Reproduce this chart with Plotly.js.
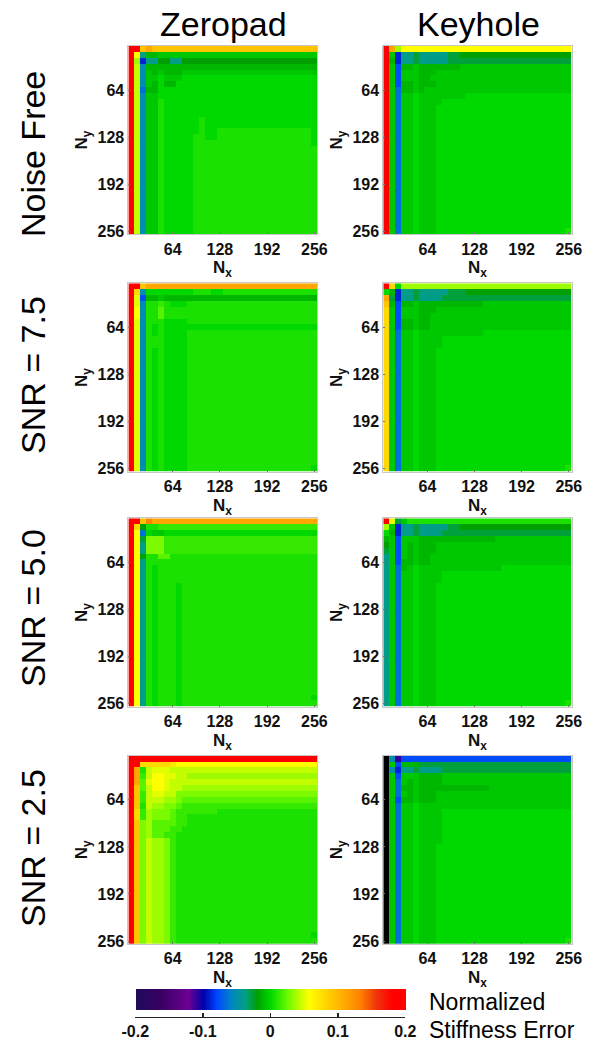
<!DOCTYPE html>
<html><head><meta charset="utf-8">
<script src="https://cdn.plot.ly/plotly-3.0.1.min.js"></script>
<style>html,body{margin:0;padding:0;background:#fff}</style></head>
<body><div id="chart" style="width:603px;height:1050px"></div>
<script>
// Matrix size values (both axes)
const sizes = [8,16,24,32,40,48,56,64,72,80,88,96,104,112,120,128,136,144,152,160,168,176,184,192,200,208,216,224,232,240,248,256];
const tickValues = [64,128,192,256];
const columnTitles = ["Zeropad","Keyhole"];
const rowTitles = ["Noise Free","SNR = 7.5","SNR = 5.0","SNR = 2.5"];
const barTicks = [-0.2,-0.1,0,0.1,0.2];
const barTickText = ["-0.2","-0.1","0","0.1","0.2"];

// Error level for each letter used in the grids below
const levels = {K:-0.2,P:-0.11,B:-0.09,C:-0.078,D:-0.066,E:-0.052,F:-0.04,G:-0.028,H:-0.02,I:-0.012,J:-0.006,
  a:0,b:0.006,c:0.012,d:0.02,n:0.028,e:0.035,f:0.043,g:0.05,h:0.056,i:0.07,j:0.08,k:0.093,l:0.11,m:0.13,r:0.2};

const zeropadNoiseFree = [
"rrklkkkk kkkkkkkk kkkkkkkk kkkkkkkk",
"rhFIIJJJ JJJJJJJJ JJJJJJJJ JJJJJJJJ",
"reBFFHHF FHHHHHHH HHHHHHHH HHHHHHHH",
"rfEIIIII IIIIIIII IIIIIIII IIIIIIII",
"rfEJIJII IJJJJJJJ JJJJJJJJ JJJJJJJJ",
"rfEJJaJJ Jaaaaaaa aaaaaaaa aaaaaaaa",
"rfEJIaII aaaaaaaa aaaaaaaa aaaaaaaa",
"rfDIIaaa aaaaaaaa aaaaaaaa aaaaaaaa",
"rfEJJaaa aaaaaaaa aaaaaaaa aaaaaaaa",
"rfEJJbaa aaaaaaaa aaaaaaaa aaaaaaaa",
"rfEJJbaa aaaaaaaa aaaaaaaa aaaaaaaa",
"rfEJJbaa aaaaaaaa aaaaaaaa aaaaaaaa",
"rfEJJbaa aaaabaaa aaaaaaaa aaaaaaaa",
"rfEJJbaa aaaabaaa aaaaaaaa aaaaaaaa",
"rfEJJbaa aaaabaab bbbbbbbb bbbbbbba",
"rfEJJbaa aaabbaab bbbbbbbb bbbbbbba",
"rfEJJbaa aaabbbbb bbbbbbbb bbbbbbba",
"rfEJJbaa aaabbbbb bbbbbbbb bbbbbbbb",
"rfEJJbaa aaabbbbb bbbbbbbb bbbbbbbb",
"rfEJJbaa aaabbbbb bbbbbbbb bbbbbbbb",
"rfEJJbaa aaabbbbb bbbbbbbb bbbbbbbb",
"rfEJJbaa aaabbbbb bbbbbbbb bbbbbbbb",
"rfEJJbaa aaabbbbb bbbbbbbb bbbbbbbb",
"rfEJJbaa aaabbbbb bbbbbbbb bbbbbbbb",
"rfEJJbaa aaabbbbb bbbbbbbb bbbbbbbb",
"rfEJJbaa aaabbbbb bbbbbbbb bbbbbbbb",
"rfEJJbaa aaabbbbb bbbbbbbb bbbbbbbb",
"rfEJJbaa aaabbbbb bbbbbbbb bbbbbbbb",
"rfEJJbaa aaabbbbb bbbbbbbb bbbbbbbb",
"rfEJJbaa aaabbbbb bbbbbbbb bbbbbbbb",
"rfEJJbaa aaabbbbb bbbbbbbb bbbbbbbb",
"rfEJJbaa aaabbbbb bbbbbbbb bbbbbbbb"];

const keyholeNoiseFree = [
"rlehhhhh hhhhhhhh hhhhhhhh hhhhhhhh",
"rJBFFGFF FFFGGHHH HHHHHHHH HHHHHHHH",
"rIBFFGFF FFFGGGGG GGGGGGGG GGGGGGGG",
"rJCIIJII IIIIIJJJ JJJJJJJJ JJJJJJJJ",
"rJCJJJII IJJJJJJJ JJJJJJJJ JJJJJJJJ",
"rJCJJJII JJJJJJJJ JJJJJJJJ JJJJJJJJ",
"rJCIIJII IJJJJJJJ JJJJJJJJ JJJJJJJJ",
"rJDIIJIJ JJJJJJJJ JJJJJJJJ JJJJJJJJ",
"rJDJJaJJ JJJJJJaa aaaaaaaa aaaaaaaa",
"rJDJJaJJ JJaaaaaa aaaaaaaa aaaaaaaa",
"rJDJJaJJ Jaaaaaaa aaaaaaaa aaaaaaaa",
"rJDJJaJJ Jaaaaaaa aaaaaaaa aaaaaaaa",
"rJDJJaJJ Jaaaaaaa aaaaaaaa aaaaaaaa",
"rJDJJaJJ Jaaaaaaa aaaaaaaa aaaaaaaa",
"rJDJJaJJ Jaaaaaaa aaaaaaaa aaaaaaaa",
"rJDJJaJJ Jaaaaaaa aaaaaaaa aaaaaaaa",
"rJDJJaJJ Jaaaaaaa aaaaaaaa aaaaaaaa",
"rJDJJaJJ Jaaaaaaa aaaaaaaa aaaaaaaa",
"rJDJJaJJ Jaaaaaaa aaaaaaaa aaaaaaaa",
"rJDJJaJJ Jaaaaaaa aaaaaaaa aaaaaaaa",
"rJDJJaJJ Jaaaaaaa aaaaaaaa aaaaaaaa",
"rJDJJaJJ Jaaaaaaa aaaaaaaa aaaaaaaa",
"rJDJJaJJ Jaaaaaaa aaaaaaaa aaaaaaaa",
"rJDJJaJJ Jaaaaaaa aaaaaaaa aaaaaaaa",
"rJDJJaJJ Jaaaaaaa aaaaaaaa aaaaaaaa",
"rJDJJaJJ Jaaaaaaa aaaaaaaa aaaaaaaa",
"rJDJJaJJ Jaaaaaaa aaaaaaaa aaaaaaaa",
"rJDJJaJJ Jaaaaaaa aaaaaaaa aaaaaaaa",
"rJDJJaJJ Jaaaaaaa aaaaaaaa aaaaaaaa",
"rJDJJaJJ Jaaaaaaa aaaaaaaa aaaaaaaa",
"rJDJJaJJ Jaaaaaaa aaaaaaaa aaaaaaaa",
"rJDJJaJJ Jaaaaaaa aaaaaaaa aaaaaaab"];

const zeropadSnr75 = [
"rrklllll llllllll llllllll llllllll",
"rjEaaaaa aaabbbaa bbbbbbbb bbbbbbbb",
"rgCIIJII IIIIIIII IIIIIIII IIIIIIII",
"rgEbbcba aabbbbbb bbbbbbbb bbbbbbbb",
"rhEbbdbb bbbbbbbb bbbbbbbb bbbbbbbb",
"rhEbbdbb bbbbbbbb bbbbbbbb bbbbbbbb",
"rgEbbbaa aabbbbbb bbbbbbbb bbbbbbbb",
"rgEbabaa aaaaaaaa aaaaaaaa aaaaaaaa",
"rgEbabaa aabbbbbb bbbbbbbb bbbbbbbb",
"rgEbbbaa aabbbbbb bbbbbbbb bbbbbbbb",
"rgEbbbaa aabbbbbb bbbbbbbb bbbbbbbb",
"rgEbabaa aabbbbbb bbbbbbbb bbbbbbbb",
"rgEbabaa aabbbbbb bbbbbbbb bbbbbbbb",
"rgEbabaa aabbbbbb bbbbbbbb bbbbbbbb",
"rgEbabaa aabbbbbb bbbbbbbb bbbbbbbb",
"rgEbabaa aabbbbbb bbbbbbbb bbbbbbbb",
"rgEbabaa aabbbbbb bbbbbbbb bbbbbbbb",
"rgEbabaa aabbbbbb bbbbbbbb bbbbbbbb",
"rgEbabaa aabbbbbb bbbbbbbb bbbbbbbb",
"rgEbabaa aabbbbbb bbbbbbbb bbbbbbbb",
"rgEbabaa aabbbbbb bbbbbbbb bbbbbbbb",
"rgEbabaa aabbbbbb bbbbbbbb bbbbbbbb",
"rgEbabaa aabbbbbb bbbbbbbb bbbbbbbb",
"rgEbabaa aabbbbbb bbbbbbbb bbbbbbbb",
"rgEbabaa aabbbbbb bbbbbbbb bbbbbbbb",
"rgEbabaa aabbbbbb bbbbbbbb bbbbbbbb",
"rgEbabaa aabbbbbb bbbbbbbb bbbbbbbb",
"rgEbabaa aabbbbbb bbbbbbbb bbbbbbbb",
"rgEbabaa aabbbbbb bbbbbbbb bbbbbbbb",
"rgEbabaa aabbbbbb bbbbbbbb bbbbbbbb",
"rgEbabaa aabbbbbb bbbbbbbb bbbbbbbb",
"rgEbabaa aabbbbbb bbbbbbbb bbbbbbba"];

const keyholeSnr75 = [
"rjaeeeee eeeeeeee eeeeeeee eeeeeeee",
"aIBFFGFF FFFGGGHH HHHHHHHH HHHHHHHH",
"lGBFFGFF FFGGGGGG GGGGGGGG GGGGGGGG",
"kICIIJII IIIIIIII IJJJJJJJ JJJJJJJJ",
"jJCJJJII IJJJJJJJ JJJJJJJJ JJJJJJJJ",
"jJCJJJII JJJJJJJJ JJJJJJJJ JJJJJJJJ",
"jJCIIJII JJJJJJJJ JJJJJJJJ JJJJJJJJ",
"jJCIIJII JJJJJJJJ JJJJJJJJ JJJJJJJJ",
"jJDJJaJJ JJJJJJJJ Jaaaaaaa aaaaaaaa",
"jJDJJaJJ JJaaaaaa aaaaaaaa aaaaaaaa",
"jJDJJaJJ JJaaaaaa aaaaaaaa aaaaaaaa",
"jJDJJaJJ Jaaaaaaa aaaaaaaa aaaaaaaa",
"jJDJJaJJ Jaaaaaaa aaaaaaaa aaaaaaaa",
"jJDJJaJJ Jaaaaaaa aaaaaaaa aaaaaaaa",
"jJDJJaJJ Jaaaaaaa aaaaaaaa aaaaaaaa",
"jJDJJaJJ Jaaaaaaa aaaaaaaa aaaaaaaa",
"jJDJJaJJ Jaaaaaaa aaaaaaaa aaaaaaaa",
"jJDJJaJJ Jaaaaaaa aaaaaaaa aaaaaaaa",
"jJDJJaJJ Jaaaaaaa aaaaaaaa aaaaaaaa",
"jJDJJaJJ Jaaaaaaa aaaaaaaa aaaaaaaa",
"jJDJJaJJ Jaaaaaaa aaaaaaaa aaaaaaaa",
"jJDJJaJJ Jaaaaaaa aaaaaaaa aaaaaaaa",
"jJDJJaJJ Jaaaaaaa aaaaaaaa aaaaaaaa",
"jJDJJaJJ Jaaaaaaa aaaaaaaa aaaaaaaa",
"jJDJJaJJ Jaaaaaaa aaaaaaaa aaaaaaaa",
"jJDJJaJJ Jaaaaaaa aaaaaaaa aaaaaaaa",
"jJDJJaJJ Jaaaaaaa aaaaaaaa aaaaaaaa",
"jJDJJaJJ Jaaaaaaa aaaaaaaa aaaaaaaa",
"jJDJJaJJ Jaaaaaaa aaaaaaaa aaaaaaaa",
"jJDJJaJJ Jaaaaaaa aaaaaaaa aaaaaaaa",
"jJDJJaJJ Jaaaaaaa aaaaaaaa aaaaaaaa",
"jJDJJaJJ Jaaaaaaa aaaaaaaa aaaaaaab"];

const zeropadSnr50 = [
"rrkmllll llllllll llllllll llllllll",
"rjHbbccc cccccccc cccccccc cccccccc",
"rhDaJJaa aaaaaaaa aaaaaaaa aaaaaaaa",
"rhGnnncc cccccccc cccccccc cccccccc",
"rhFnnncc cccccccc cccccccc cccccccc",
"rhFnnncc cccccccc cccccccc cccccccc",
"rhHbbddb bbbbbbbb bbbbbbbb bbbbbbbb",
"rhFbbbbb bbbbbbbb bbbbbbbb bbbbbbbb",
"rhFbabbb bbbbbbbb bbbbbbbb bbbbbbbb",
"rhFbabbb bbbbbbbb bbbbbbbb bbbbbbbb",
"rhFbabbb bbbbbbbb bbbbbbbb bbbbbbbb",
"rhFbabbb abbbbbbb bbbbbbbb bbbbbbbb",
"rhFbabbb abbbbbbb bbbbbbbb bbbbbbbb",
"rhFbabbb abbbbbbb bbbbbbbb bbbbbbbb",
"rhFbabbb abbbbbbb bbbbbbbb bbbbbbbb",
"rhFbabbb abbbbbbb bbbbbbbb bbbbbbbb",
"rhFbabbb abbbbbbb bbbbbbbb bbbbbbbb",
"rhFbabbb abbbbbbb bbbbbbbb bbbbbbbb",
"rhFbabbb abbbbbbb bbbbbbbb bbbbbbbb",
"rhFbabbb abbbbbbb bbbbbbbb bbbbbbbb",
"rhFbabbb abbbbbbb bbbbbbbb bbbbbbbb",
"rhFbabbb abbbbbbb bbbbbbbb bbbbbbbb",
"rhFbabbb abbbbbbb bbbbbbbb bbbbbbbb",
"rhFbabbb abbbbbbb bbbbbbbb bbbbbbbb",
"rhFbabbb abbbbbbb bbbbbbbb bbbbbbbb",
"rhFbabbb abbbbbbb bbbbbbbb bbbbbbbb",
"rhFbabbb abbbbbbb bbbbbbbb bbbbbbbb",
"rhFbabbb abbbbbbb bbbbbbbb bbbbbbbb",
"rhFbabbb abbbbbbb bbbbbbbb bbbbbbbb",
"rhFbabbb abbbbbbb bbbbbbbb bbbbbbbb",
"rhFbabbb abbbbbbb bbbbbbbb bbbbbbba",
"rhFbabbb abbbbbbb bbbbbbbb bbbbbbbb"];

const keyholeSnr50 = [
"rgGJbbbb bbbbbbbb bbbbbbbb bbbbbbbb",
"eJBFFGFF FFFGGHHH HHHHHHHH HHHHHHHH",
"aIBFFGFF FFGGGGGG GGGGGGGG GGGGGGGG",
"IJCJJJII IIIIIIII IIIJJJJJ JJJJJJJJ",
"HJCJIJII IJJJJJJJ JJJJJJJJ JJJJJJJJ",
"GJCJIJII IJJJJJJJ JJJJJJJJ JJJJJJJJ",
"FJCJIJII JJJJJJJJ JJJJJJJJ JJJJJJJJ",
"FJCIIJII JJJJJJJJ JJJJJJJJ JJJJJJJJ",
"FJDIJaJJ JJJJJJJJ JJJJaaaa aaaaaaaa",
"FJDJJaJJ JJaaaaaa aaaaaaaa aaaaaaaa",
"FJDJJaJJ JJaaaaaa aaaaaaaa aaaaaaaa",
"FJDJJaJJ Jaaaaaaa aaaaaaaa aaaaaaaa",
"FJDJJaJJ Jaaaaaaa aaaaaaaa aaaaaaaa",
"FJDJJaJJ Jaaaaaaa aaaaaaaa aaaaaaaa",
"FJDJJaJJ Jaaaaaaa aaaaaaaa aaaaaaaa",
"FJDJJaJJ Jaaaaaaa aaaaaaaa aaaaaaaa",
"FJDJJaJJ Jaaaaaaa aaaaaaaa aaaaaaaa",
"FJDJJaJJ Jaaaaaaa aaaaaaaa aaaaaaaa",
"FJDJJaJJ Jaaaaaaa aaaaaaaa aaaaaaaa",
"FJDJJaJJ Jaaaaaaa aaaaaaaa aaaaaaaa",
"FJDJJaJJ Jaaaaaaa aaaaaaaa aaaaaaaa",
"FJDJJaJJ Jaaaaaaa aaaaaaaa aaaaaaaa",
"FJDJJaJJ Jaaaaaaa aaaaaaaa aaaaaaaa",
"FJDJJaJJ Jaaaaaaa aaaaaaaa aaaaaaaa",
"FJDJJaJJ Jaaaaaaa aaaaaaaa aaaaaaaa",
"FJDJJaJJ Jaaaaaaa aaaaaaaa aaaaaaaa",
"FJDJJaJJ Jaaaaaaa aaaaaaaa aaaaaaaa",
"FJDJJaJJ Jaaaaaaa aaaaaaaa aaaaaaaa",
"FJDJJaJJ Jaaaaaaa aaaaaaaa aaaaaaaa",
"FJDJJaJJ Jaaaaaaa aaaaaaaa aaaaaaaa",
"FJDJJaJJ Jaaaaaaa aaaaaaaa aaaaaaaa",
"FJDJJaJJ Jaaaaaaa aaaaaaaa aaaaaaab"];

const zeropadSnr25 = [
"rrrrrrrr rrrrrrrr rrrrrrrr rrrrrrrr",
"rrjjjjji hhhhhhhh hhhhhhhh hhhhhhhh",
"rlbfgggf ffffffff ffffffff ffffffff",
"rlcfhhgg ffeeeeee eeeeeeee eeeeeeee",
"rldghhgf ffffffff ffffffff ffffffff",
"rkdfhhgf feeeeeee eeeeeeee eeeeeeee",
"rkcfggff nnnnnnnn nnnnnnnn nnnnnnnn",
"rkcfffee nddddddd dddddddd dddddddd",
"rkbfeenn dccccccc cccccccc cccccccc",
"rjcennnd cccccccb bbbbbbbb bbbbbbbb",
"rjcennnd ccbbbbbb bbbbbbbb bbbbbbbb",
"rknedddd ccbbbbbb bbbbbbbb bbbbbbbb",
"rknedddc cbbbbbbb bbbbbbbb bbbbbbbb",
"rkneddcc bbbbbbbb bbbbbbbb bbbbbbbb",
"rknfeenc bbbbbbbb bbbbbbbb bbbbbbbb",
"rknfeenc bbbbbbbb bbbbbbbb bbbbbbbb",
"rknfeenc bbbbbbbb bbbbbbbb bbbbbbbb",
"rknfeenc bbbbbbbb bbbbbbbb bbbbbbbb",
"rknfeenc bbbbbbbb bbbbbbbb bbbbbbbb",
"rknfeenc bbbbbbbb bbbbbbbb bbbbbbbb",
"rknfeenc bbbbbbbb bbbbbbbb bbbbbbbb",
"rknfeenc bbbbbbbb bbbbbbbb bbbbbbbb",
"rknfeenc bbbbbbbb bbbbbbbb bbbbbbbb",
"rknfeenc bbbbbbbb bbbbbbbb bbbbbbbb",
"rknfeenc bbbbbbbb bbbbbbbb bbbbbbbb",
"rknfeenc bbbbbbbb bbbbbbbb bbbbbbbb",
"rknfeenc bbbbbbbb bbbbbbbb bbbbbbbb",
"rknfeenc bbbbbbbb bbbbbbbb bbbbbbbb",
"rknfeenc bbbbbbbb bbbbbbbb bbbbbbbb",
"rknfeenc bbbbbbbb bbbbbbbb bbbbbbbb",
"rknfeenc bbbbbbbb bbbbbbbb bbbbbbba",
"rknfeenc bbbbbbbb bbbbbbbb bbbbbbbb"];

const keyholeSnr25 = [
"KEPCCCCC CCCCCCCC CCCCCCCC CCCCCCCC",
"KJCIIIGG GGGGGGGG GGGGGGGG GGGGGGGG",
"KEBFFGFF FFGGGGGG GGGGGGGG GGGGGGGG",
"KJCJJJII IIJJJJJJ JJJJJJJJ JJJJJJJJ",
"KJDJIJII IIJJJJJJ JJJJJJJJ JJJJJJJJ",
"KJDIIJII IIIIIIII IIJJJJJJ JJJJJJJJ",
"KJDJIJII IJJJJJJJ JJJJJJJJ JJJJJJJJ",
"KJCIIJII IJJJJJJJ JJJJJJJJ JJJJJJJJ",
"KJDJJaJJ JJJJJJJJ JJJJJJJJ JJJJJJJJ",
"KJDJJaJJ JJaaaaaa aaaaaaaa aaaaaaaa",
"KJDJJaJJ JJaaaaaa aaaaaaaa aaaaaaaa",
"KJDJJaJJ JJaaaaaa aaaaaaaa aaaaaaaa",
"KJDJJaJJ JJaaaaaa aaaaaaaa aaaaaaaa",
"KJDJJaJJ JJaaaaaa aaaaaaaa aaaaaaaa",
"KJDJJaJJ JJaaaaaa aaaaaaaa aaaaaaaa",
"KJDJJaJJ Jaaaaaaa aaaaaaaa aaaaaaaa",
"KJDJJaJJ Jaaaaaaa aaaaaaaa aaaaaaaa",
"KJDJJaJJ Jaaaaaaa aaaaaaaa aaaaaaaa",
"KJDJJaJJ Jaaaaaaa aaaaaaaa aaaaaaaa",
"KJDJJaJJ Jaaaaaaa aaaaaaaa aaaaaaaa",
"KJDJJaJJ Jaaaaaaa aaaaaaaa aaaaaaaa",
"KJDJJaJJ Jaaaaaaa aaaaaaaa aaaaaaaa",
"KJDJJaJJ Jaaaaaaa aaaaaaaa aaaaaaaa",
"KJDJJaJJ Jaaaaaaa aaaaaaaa aaaaaaaa",
"KJDJJaJJ Jaaaaaaa aaaaaaaa aaaaaaaa",
"KJDJJaJJ Jaaaaaaa aaaaaaaa aaaaaaaa",
"KJDJJaJJ Jaaaaaaa aaaaaaaa aaaaaaaa",
"KJDJJaJJ Jaaaaaaa aaaaaaaa aaaaaaaa",
"KJDJJaJJ Jaaaaaaa aaaaaaaa aaaaaaaa",
"KJDJJaJJ Jaaaaaaa aaaaaaaa aaaaaaaa",
"KJDJJaJJ Jaaaaaaa aaaaaaaa aaaaaaaa",
"KJDJJaJJ Jaaaaaaa aaaaaaaa aaaaaaab"];

const grids = [zeropadNoiseFree,keyholeNoiseFree,zeropadSnr75,keyholeSnr75,zeropadSnr50,keyholeSnr50,zeropadSnr25,keyholeSnr25];

// colour map: value, colour (black is the below-range colour seen in the Keyhole SNR 2.5 panel)
const mapValues = [-0.2,-0.1999,-0.16,-0.122,-0.1,-0.08,-0.06,-0.038,-0.02,0,0.025,0.056,0.093,0.132,0.157,0.18,0.2];
const mapColors = ["#000000","#1e0a5a","#3c0064","#6e0096","#0000aa","#0046ff","#0082c8","#00a082","#00a000","#00d900","#6efa00","#ffff00","#ffc300","#ff8200","#f0320a","#ff0000","#ff0000"];
const colorscale = mapValues.map((v,i)=>[(v+0.2)/0.4,mapColors[i]]);

const W=603,H=1050;
const colLeft=[128.4,383.3], colRight=[317.3,571.7];
const rowTop=[46,283.3,518.3,755.7], rowBottom=[234.3,471.7,706.7,944];
const FONT="Liberation Sans, Arial, sans-serif";
const tickFont={family:FONT,size:16,color:"#111",weight:700};
const titleFont={family:FONT,size:17,color:"#111"};

const decode=g=>g.map(r=>r.replace(/ /g,"").split("").map(c=>levels[c]));
const traces=[]; const layout={width:W,height:H,margin:{l:0,r:0,t:0,b:0,pad:0,autoexpand:false},paper_bgcolor:"#fff",plot_bgcolor:"#fff",showlegend:false,annotations:[]};

grids.forEach((g,n)=>{
  const id=n+1, c=n%2, r=Math.floor(n/2);
  const t={type:"heatmap",x:sizes,y:sizes,z:decode(g),xaxis:"x"+id,yaxis:"y"+id,colorscale,zmin:-0.2,zmax:0.2,xgap:0,ygap:0,showscale:false,hoverongaps:false};
  if(n===0){
    t.showscale=true;
    t.colorbar={orientation:"h",lenmode:"pixels",len:270.3,thicknessmode:"pixels",thickness:20.5,x:135.7/W,xanchor:"left",y:1-988.7/H,yanchor:"top",xpad:0,ypad:0,outlinewidth:0,borderwidth:0,ticks:"",showticklabels:false};
  }
  traces.push(t);
  layout["xaxis"+id]={domain:[colLeft[c]/W,colRight[c]/W],anchor:"y"+id,range:[4,260],tickmode:"array",tickvals:tickValues,ticktext:tickValues.map(String),
    ticks:"inside",ticklen:2,tickcolor:"#777",tickwidth:1,mirror:true,showline:true,linecolor:"#c8c8c8",linewidth:1,showgrid:false,zeroline:false,tickfont:tickFont,automargin:false};
  layout["yaxis"+id]={domain:[1-rowBottom[r]/H,1-rowTop[r]/H],anchor:"x"+id,range:[260,4],tickmode:"array",tickvals:tickValues,ticktext:tickValues.map(String),
    ticks:"inside",ticklen:2,tickcolor:"#777",tickwidth:1,mirror:true,showline:true,linecolor:"#c8c8c8",linewidth:1,showgrid:false,zeroline:false,tickfont:tickFont,
    title:{text:"<b>N<sub>y</sub></b>",font:titleFont,standoff:5},automargin:false};
  layout.annotations.push({text:"<b>N<sub>x</sub></b>",xref:"paper",yref:"paper",x:(colLeft[c]+colRight[c])/2/W,y:1-(rowBottom[r]+22)/H,xanchor:"center",yanchor:"top",showarrow:false,font:titleFont});
});

// axis below the colour bar
traces.push({type:"scatter",x:[],y:[],xaxis:"x9",yaxis:"y9",hoverinfo:"skip"});
layout.xaxis9={domain:[135.3/W,405.3/W],anchor:"free",position:1-1016.7/H,range:[-0.2,0.2],tickmode:"array",tickvals:barTicks,ticktext:barTickText,
  ticks:"inside",ticklen:4,tickwidth:1.5,tickcolor:"#222",showline:true,linecolor:"#222",linewidth:1.5,showgrid:false,zeroline:false,tickfont:tickFont,automargin:false};
layout.yaxis9={domain:[1-1040/H,1-1017/H],anchor:"x9",visible:false,range:[0,1]};

const bigFont={family:FONT,size:34,color:"#000"};
const centerX=[224,478.3], centerRowY=[154,375,608,848];
columnTitles.forEach((t,i)=>layout.annotations.push({text:t,xref:"paper",yref:"paper",x:centerX[i]/W,y:1-24/H,xanchor:"center",yanchor:"middle",showarrow:false,font:bigFont}));
rowTitles.forEach((t,i)=>layout.annotations.push({text:t,xref:"paper",yref:"paper",x:33/W,y:1-centerRowY[i]/H,xanchor:"center",yanchor:"middle",textangle:-90,showarrow:false,font:bigFont}));
layout.annotations.push({text:"Normalized",xref:"paper",yref:"paper",x:427/W,y:1-1002/H,xanchor:"left",yanchor:"middle",showarrow:false,font:{family:FONT,size:23,color:"#000"}});
layout.annotations.push({text:"Stiffness Error",xref:"paper",yref:"paper",x:427/W,y:1-1030/H,xanchor:"left",yanchor:"middle",showarrow:false,font:{family:FONT,size:23,color:"#000"}});

Plotly.newPlot("chart",traces,layout,{displayModeBar:false,staticPlot:true});
</script></body></html>
